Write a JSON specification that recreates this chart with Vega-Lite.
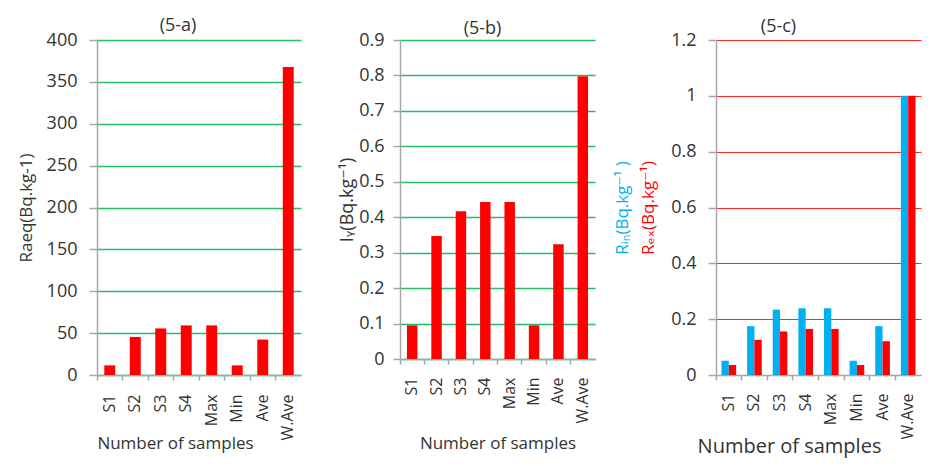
{
  "$schema": "https://vega.github.io/schema/vega-lite/v6.json",
  "padding": {"left": 17, "top": 17, "right": 5, "bottom": 5},
  "background": "white",
  "config": {
    "font": "Open Sans, DejaVu Sans",
    "view": {"stroke": null},
    "axis": {
      "labelFont": "Open Sans, DejaVu Sans",
      "titleFont": "Open Sans, DejaVu Sans",
      "labelColor": "#333333",
      "titleColor": "#333333",
      "domainColor": "#A6A6A6",
      "tickColor": "#A6A6A6",
      "domainWidth": 1.5,
      "tickWidth": 1.5,
      "titleFontWeight": "normal"
    },
    "title": {"font": "Open Sans, DejaVu Sans", "fontWeight": "normal", "color": "#333333"}
  },
  "datasets": {
    "a": [
      {"s": "S1", "v": 11.5},
      {"s": "S2", "v": 45.5},
      {"s": "S3", "v": 55.6},
      {"s": "S4", "v": 59.2},
      {"s": "Max", "v": 59.2},
      {"s": "Min", "v": 11.5},
      {"s": "Ave", "v": 42.3},
      {"s": "W.Ave", "v": 367.7}
    ],
    "b": [
      {"s": "S1", "v": 0.095},
      {"s": "S2", "v": 0.347},
      {"s": "S3", "v": 0.417},
      {"s": "S4", "v": 0.443},
      {"s": "Max", "v": 0.443},
      {"s": "Min", "v": 0.095},
      {"s": "Ave", "v": 0.324},
      {"s": "W.Ave", "v": 0.798}
    ],
    "c": [
      {"s": "S1", "k": "Rin", "v": 0.051},
      {"s": "S1", "k": "Rex", "v": 0.036},
      {"s": "S2", "k": "Rin", "v": 0.175},
      {"s": "S2", "k": "Rex", "v": 0.126},
      {"s": "S3", "k": "Rin", "v": 0.234},
      {"s": "S3", "k": "Rex", "v": 0.156},
      {"s": "S4", "k": "Rin", "v": 0.239},
      {"s": "S4", "k": "Rex", "v": 0.165},
      {"s": "Max", "k": "Rin", "v": 0.239},
      {"s": "Max", "k": "Rex", "v": 0.165},
      {"s": "Min", "k": "Rin", "v": 0.051},
      {"s": "Min", "k": "Rex", "v": 0.036},
      {"s": "Ave", "k": "Rin", "v": 0.175},
      {"s": "Ave", "k": "Rex", "v": 0.121},
      {"s": "W.Ave", "k": "Rin", "v": 1.0},
      {"s": "W.Ave", "k": "Rex", "v": 1.0}
    ]
  },
  "spacing": 37,
  "hconcat": [
    {
      "data": {"name": "a"},
      "width": 204,
      "height": 335,
      "title": {"text": "(5-a)", "fontSize": 18, "frame": "group", "dx": -21, "offset": -4},
      "mark": {"type": "bar", "color": "#FF0000", "width": {"band": 0.43}},
      "encoding": {
        "x": {
          "field": "s", "type": "nominal", "sort": null,
          "scale": {"paddingInner": 0, "paddingOuter": 0},
          "axis": {
            "title": "Number of samples", "titleFontSize": 17, "titlePadding": -5, "titleX": 78,
            "bandPosition": 0, "labelAngle": -90, "labelFontSize": 16,
            "tickSize": 5, "labelPadding": 14, "grid": false
          }
        },
        "y": {
          "field": "v", "type": "quantitative",
          "scale": {"domain": [0, 400]},
          "axis": {
            "values": [0, 50, 100, 150, 200, 250, 300, 350, 400],
            "format": "~r",
            "title": "Raeq(Bq.kg-1)", "titleFontSize": 17, "titlePadding": 11,
            "labelFontSize": 18, "tickSize": 8, "labelPadding": 12,
            "grid": true, "gridColor": "#00B050", "gridWidth": 1.5, "gridOpacity": 0.85
          }
        }
      }
    },
    {
      "spacing": 18,
      "hconcat": [
        {
          "data": {"name": "b"},
          "width": 195,
          "height": 319,
          "title": {"text": "(5-b)", "fontSize": 18, "frame": "group", "dx": -15, "offset": -7},
          "mark": {"type": "bar", "color": "#FF0000", "width": {"band": 0.43}},
          "encoding": {
            "x": {
              "field": "s", "type": "nominal", "sort": null,
              "scale": {"paddingInner": 0, "paddingOuter": 0},
              "axis": {
                "title": "Number of samples", "titleFontSize": 17, "titlePadding": 12,
                "bandPosition": 0, "labelAngle": -90, "labelFontSize": 16,
                "tickSize": 5, "labelPadding": 13, "grid": false
              }
            },
            "y": {
              "field": "v", "type": "quantitative",
              "scale": {"domain": [0, 0.9]},
              "axis": {
                "values": [0, 0.1, 0.2, 0.3, 0.4, 0.5, 0.6, 0.7, 0.8, 0.9],
                "format": "~r",
                "title": "Iᵧ(Bq.kg⁻¹)", "titleFontSize": 18, "titlePadding": 2,
                "labelFontSize": 18, "tickSize": 7, "labelPadding": 9,
                "grid": true, "gridColor": "#00B050", "gridWidth": 1.5, "gridOpacity": 0.85
              }
            }
          }
        },
        {
          "data": {"name": "c"},
          "width": 205,
          "height": 335,
          "title": {"text": "(5-c)", "fontSize": 18, "frame": "group", "dx": -40, "offset": -5},
          "encoding": {
            "x": {
              "field": "s", "type": "nominal", "sort": null,
              "scale": {"paddingInner": 0, "paddingOuter": 0},
              "axis": {
                "title": "Number of samples", "titleFontSize": 20, "titlePadding": -3, "titleX": 73,
                "bandPosition": 0, "labelAngle": -90, "labelFontSize": 16,
                "tickSize": 5, "labelPadding": 13, "grid": false
              }
            },
            "xOffset": {
              "field": "k", "type": "nominal", "sort": ["Rin", "Rex"],
              "scale": {"paddingInner": 0, "paddingOuter": 0.75}
            },
            "color": {
              "field": "k", "type": "nominal",
              "scale": {"domain": ["Rin", "Rex"], "range": ["#00B0F0", "#FF0000"]},
              "legend": null
            }
          },
          "layer": [
            {
              "mark": "bar",
              "encoding": {
                "y": {
                  "field": "v", "type": "quantitative",
                  "scale": {"domain": [0, 1.2]},
                  "axis": {
                    "orient": "left",
                    "values": [0, 0.2, 0.4, 0.6, 0.8, 1, 1.2],
                    "format": "~r",
                    "title": "Rₑₓ(Bq.kg⁻¹)", "titleColor": "#FF0000", "titleFontSize": 17, "titlePadding": 13,
                    "labelFontSize": 18, "tickSize": 8, "labelPadding": 12,
                    "grid": true, "gridColor": "#FF0000", "gridWidth": 1.2, "gridOpacity": 0.85
                  }
                }
              }
            },
            {
              "mark": {"type": "bar", "opacity": 0},
              "encoding": {
                "y": {
                  "field": "v", "type": "quantitative",
                  "scale": {"domain": [0, 1.2]},
                  "axis": {
                    "orient": "left",
                    "labels": false, "ticks": false, "domain": false, "grid": false,
                    "title": "Rᵢₙ(Bq.kg⁻¹ )", "titleColor": "#00B0F0", "titleFontSize": 17, "titlePadding": 85
                  }
                }
              }
            }
          ],
          "resolve": {"axis": {"y": "independent"}}
        }
      ]
    }
  ]
}
